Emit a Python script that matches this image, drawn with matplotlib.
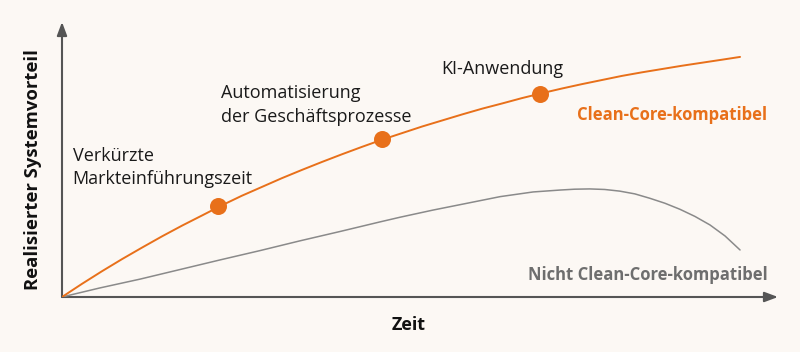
import matplotlib.pyplot as plt

# Zeit (0..100) und realisierter Vorteil (0..100)
clean_x = [0, 2.8, 5.6, 8.4, 11.2, 14.0, 16.8, 19.6, 22.3, 25.1, 27.9, 30.7,
           33.5, 36.3, 39.1, 41.9, 44.7, 47.5, 50.3, 53.1, 55.9, 58.7, 61.5,
           64.2, 67.0, 69.8, 72.6, 75.4, 78.2, 81.0, 83.8, 86.6, 89.4, 92.2, 94.7]
clean_y = [0, 4.8, 9.4, 13.8, 18.0, 22.1, 26.0, 29.7, 33.3, 36.8, 40.0, 43.2,
           46.2, 49.1, 51.9, 54.6, 57.2, 59.6, 62.0, 64.2, 66.4, 68.5, 70.4,
           72.3, 74.1, 75.8, 77.4, 78.9, 80.4, 81.7, 82.9, 84.1, 85.2, 86.3, 87.3]

nicht_x = [0, 5.3, 10.9, 16.5, 22.1, 27.7, 33.2, 38.8, 44.4, 47.2, 51.8, 56.6,
           61.2, 65.8, 69.6, 71.6, 73.7, 75.8, 77.9, 80.0, 82.1, 84.2, 86.3,
           88.4, 90.5, 92.6, 94.7]
nicht_y = [0, 3.3, 6.5, 10.0, 13.5, 16.9, 20.4, 23.8, 27.3, 29.0, 31.6, 34.1,
           36.5, 38.2, 38.9, 39.2, 39.3, 39.1, 38.5, 37.5, 35.9, 34.1, 31.9,
           29.3, 26.2, 22.2, 17.1]

meilensteine = ["Verkürzte\nMarkteinführungszeit",
                "Automatisierung\nder Geschäftsprozesse",
                "KI-Anwendung"]
meilenstein_x = [21.8, 44.7, 66.8]
meilenstein_y = [33.1, 57.5, 73.8]

orange = "#e8701a"
grau = "#8a8a8a"
bg = "#fcf8f4"

plt.rcParams["font.family"] = ["Open Sans", "DejaVu Sans"]

fig = plt.figure(figsize=(8, 3.52), dpi=100, facecolor=bg)
ax = fig.add_axes([62 / 800, 55 / 352, 716 / 800, 275 / 352])
ax.set_facecolor(bg)
ax.set_xlim(0, 100)
ax.set_ylim(0, 100)
for s in ax.spines.values():
    s.set_visible(False)
ax.set_xticks([])
ax.set_yticks([])

# Achsen mit Pfeilen
arrow = dict(arrowstyle="-|>,head_length=0.8,head_width=0.3", color="#555555", lw=1.5,
             shrinkA=0, shrinkB=0)
ax.annotate("", xy=(1, 0), xytext=(0, 0), xycoords="axes fraction", arrowprops=arrow)
ax.annotate("", xy=(0, 1), xytext=(0, 0), xycoords="axes fraction", arrowprops=arrow)

ax.plot(nicht_x, nicht_y, color=grau, lw=1.1, solid_capstyle="round",
        solid_joinstyle="round", zorder=3)
ax.plot(clean_x, clean_y, color=orange, lw=1.4, solid_capstyle="round",
        solid_joinstyle="round", zorder=4)
ax.scatter(meilenstein_x, meilenstein_y, s=150, color=orange, zorder=5, linewidths=0)

label_pos = [(1.5, 54.7), (22.2, 77.3), (52.9, 86.1)]
for txt, (lx, ly) in zip(meilensteine, label_pos):
    ax.text(lx, ly, txt, fontsize=13, color="#1a1a1a", ha="left", va="top",
            linespacing=1.4)

ax.text(98.5, 66.2, "Clean-Core-kompatibel", fontsize=12, fontweight="bold",
        color=orange, ha="right", va="center")
ax.text(98.5, 8.0, "Nicht Clean-Core-kompatibel", fontsize=12, fontweight="bold",
        color="#6e6e6e", ha="right", va="center")

fig.text(409 / 800, 1 - 325 / 352, "Zeit", fontsize=13, fontweight="bold",
         color="#111111", ha="center", va="center")
fig.text(33 / 800, 1 - 170 / 352, "Realisierter Systemvorteil", fontsize=13.3,
         fontweight="bold", color="#111111", ha="center", va="center", rotation=90)

fig.savefig("out.png", dpi=100, facecolor=bg)
